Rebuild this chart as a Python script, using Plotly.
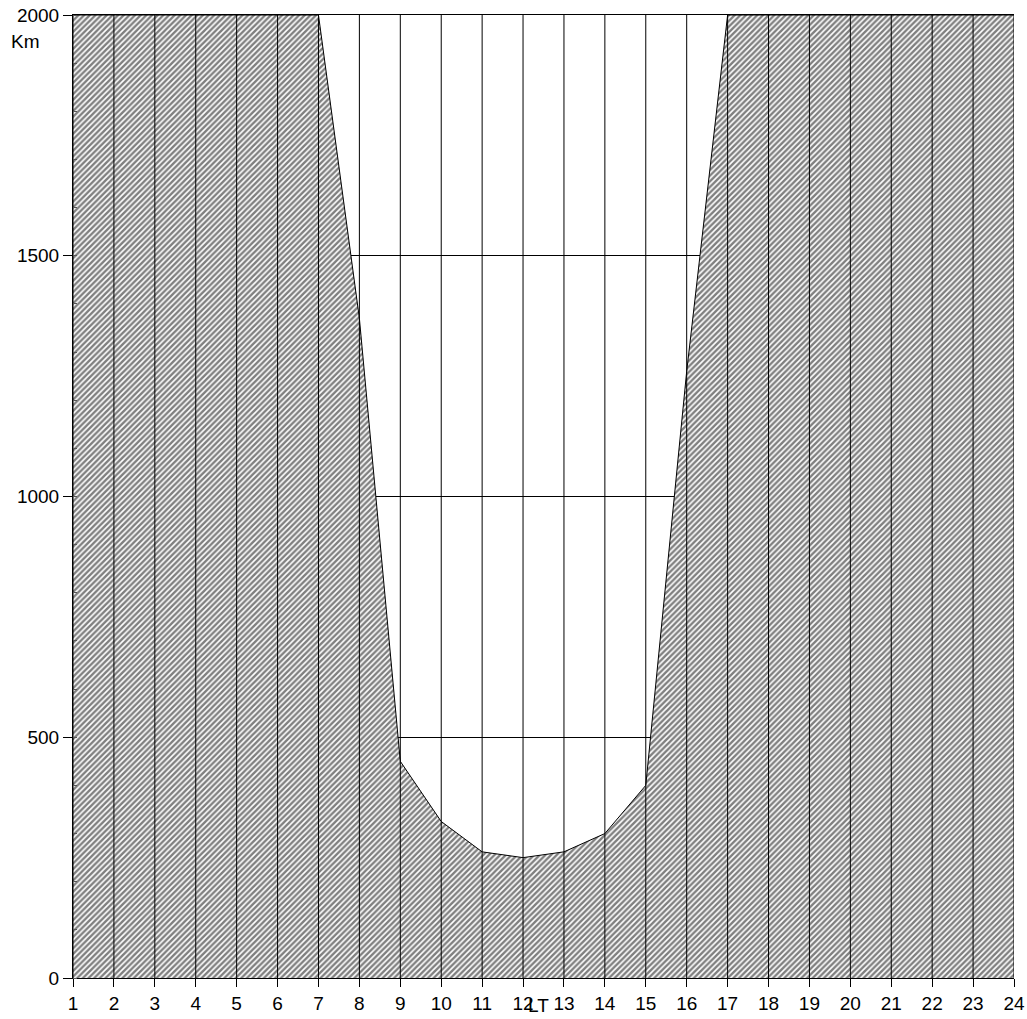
import plotly.graph_objects as go

hours = list(range(1, 25))
altitude_km = [2000, 2000, 2000, 2000, 2000, 2000, 2000, 1370, 450, 325, 262, 250,
               262, 300, 400, 1260, 2000, 2000, 2000, 2000, 2000, 2000, 2000, 2000]
y_ticks = [0, 500, 1000, 1500, 2000]
y_max = 2000

FONT = "Liberation Sans, Arial, sans-serif"
FS = 19

fig = go.Figure()

# hatched area below the boundary
fig.add_trace(go.Scatter(
    x=hours, y=altitude_km, mode="lines",
    line=dict(color="black", width=1),
    fill="tozeroy", fillcolor="white",
    fillpattern=dict(shape="/", fgcolor="black", bgcolor="white", size=4, solidity=0.6),
    hoverinfo="skip", showlegend=False,
))

# vertical hour lines drawn above the hatching
vx, vy = [], []
for h in hours:
    vx += [h, h, None]
    vy += [0, y_max, None]
fig.add_trace(go.Scatter(
    x=vx, y=vy, mode="lines", line=dict(color="black", width=1),
    hoverinfo="skip", showlegend=False,
))

fig.update_layout(
    width=1027, height=1019,
    margin=dict(l=73, r=13, t=15, b=41),
    paper_bgcolor="white", plot_bgcolor="white",
    font=dict(family=FONT, size=FS, color="black"),
    showlegend=False,
    xaxis=dict(
        range=[hours[0], hours[-1]], tickvals=hours, ticktext=[str(h) for h in hours],
        showgrid=False, zeroline=False, showline=True, linecolor="black", linewidth=1,
        mirror=True,
        ticks="outside", ticklen=8, tickcolor="black", tickfont=dict(size=FS),
        automargin=False, ticklabeloverflow="allow",
    ),
    yaxis=dict(
        range=[0, y_max], tickvals=y_ticks,
        showgrid=True, gridcolor="black", gridwidth=1,
        zeroline=False, showline=True, linecolor="black", linewidth=1,
        ticks="outside", ticklen=9, tickcolor="black", tickfont=dict(size=FS),
        minor=dict(dtick=100, ticks="inside", ticklen=4, tickcolor="#555555", showgrid=False),
        automargin=False, ticklabeloverflow="allow",
    ),
    annotations=[
        dict(text="Km", xref="paper", yref="y", x=-0.068, y=1944, xanchor="left",
             yanchor="middle", showarrow=False, font=dict(size=FS)),
        dict(text="LT", xref="paper", yref="paper", x=0.495, y=0, xanchor="center",
             yanchor="top", yshift=-15, showarrow=False, font=dict(size=FS)),
    ],
)

# remove the default page margin so the figure fills the window exactly
fig.write_html("out.html", config={"displayModeBar": False},
               post_script="document.body.style.margin='0';")
